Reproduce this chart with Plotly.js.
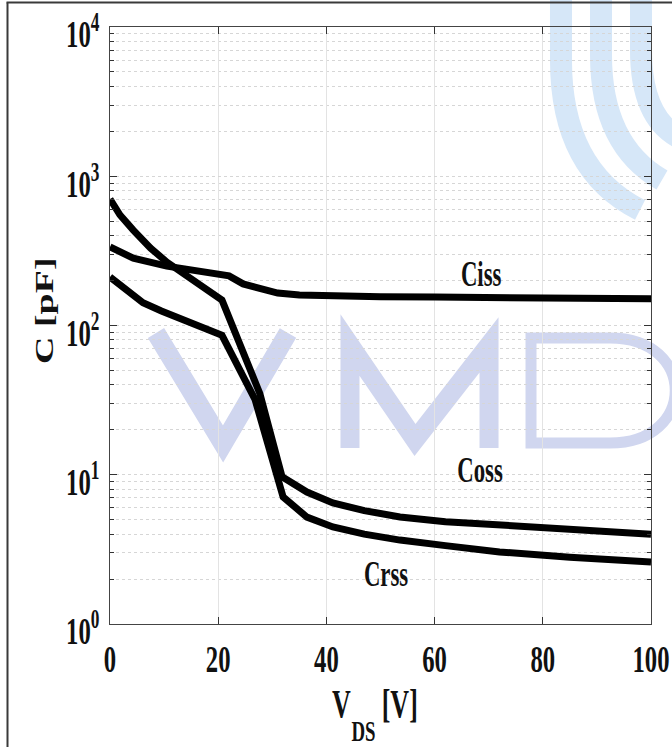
<!DOCTYPE html>
<html>
<head>
<meta charset="utf-8">
<script src="https://cdn.plot.ly/plotly-3.0.1.min.js"></script>
<style>
html,body{margin:0;padding:0;background:#fff;}
#chart{width:672px;height:747px;}
</style>
</head>
<body>
<div id="chart"></div>
<script>
// ---- data ----
var vdsCiss = [0, 4.3, 10.5, 15, 20.3, 22, 24.6, 28, 31, 35, 40, 50, 60, 70, 80, 90, 100];
var ciss    = [336, 283, 250, 237, 225, 215, 190, 175, 165, 160, 158, 156, 155, 154, 153, 152, 151];

var vdsCoss = [0, 1.85, 4.3, 7.5, 10.5, 16, 20.7, 27.7, 31.8, 36.4, 41.2, 47, 53.6, 62, 72, 85, 100];
var coss    = [704, 550, 436, 330, 266, 193, 148, 35, 9.7, 7.66, 6.47, 5.75, 5.21, 4.85, 4.6, 4.3, 4.0];

var vdsCrss = [0, 3, 6.1, 9.5, 13.5, 17, 20.7, 26.8, 32, 36.4, 41.2, 47, 53.6, 62, 72, 85, 100];
var crss    = [211, 175, 142, 125, 109, 97, 86, 32, 7.1, 5.2, 4.47, 4.0, 3.65, 3.35, 3.04, 2.8, 2.6];

var xTickVals = [0, 20, 40, 60, 80, 100];
var xTickText = ['0', '20', '40', '60', '80', '100'];
var yTickVals = [1, 10, 100, 1000, 10000];
var yTickText = ['10<sup>0</sup>', '10<sup>1</sup>', '10<sup>2</sup>', '10<sup>3</sup>', '10<sup>4</sup>'];
var seriesNames = ['Ciss', 'Coss', 'Crss'];
var yTitle = 'C [pF]';

// ---- geometry helpers (plot area in pixels: x 110..651, y 27..624) ----
var L = 110, R = 651, T = 27, B = 624;
function PX(px){ return (px - L) / (R - L); }
function PY(py){ return (B - py) / (B - T); }
function path(cmds){
  return cmds.map(function(c){
    var s = c[0];
    for (var i = 1; i < c.length; i += 2) s += ' ' + PX(c[i]).toFixed(4) + ',' + PY(c[i+1]).toFixed(4);
    return s;
  }).join(' ');
}

var minorVals = [];
for (var k = 0; k < 4; k++) for (var m = 2; m <= 9; m++) minorVals.push(m * Math.pow(10, k));

var FONT = 'Liberation Serif, Times New Roman, serif';
var INK = '#111';

var lineStyle = {color: '#000', width: 7};
var data = [
  {x: vdsCiss, y: ciss, name: seriesNames[0], mode: 'lines', line: lineStyle},
  {x: vdsCoss, y: coss, name: seriesNames[1], mode: 'lines', line: lineStyle},
  {x: vdsCrss, y: crss, name: seriesNames[2], mode: 'lines', line: lineStyle}
];

var wmLetter = '#d0d6ef', wmArc = '#d6e7f8';
var shapes = [
  // watermark letters V M D
  {type: 'path', xref: 'paper', yref: 'paper', layer: 'below', line: {color: wmLetter, width: 19},
   path: path([['M', 156, 333], ['L', 223, 444], ['L', 288, 333]])},
  {type: 'path', xref: 'paper', yref: 'paper', layer: 'below', line: {color: wmLetter, width: 19},
   path: path([['M', 350, 448], ['L', 350, 345], ['L', 415, 440], ['L', 489, 345], ['L', 489, 448]])},
  {type: 'path', xref: 'paper', yref: 'paper', layer: 'below', line: {color: wmLetter, width: 11},
   path: path([['M', 531, 338], ['L', 531, 443], ['L', 610, 443], ['C', 697, 443, 697, 338, 610, 338], ['Z']])},
  // watermark arcs top right
  {type: 'path', xref: 'paper', yref: 'paper', layer: 'below', line: {color: wmArc, width: 22},
   path: path([['M', 561, -5], ['L', 561, 60], ['Q', 561, 170, 640, 210]])},
  {type: 'path', xref: 'paper', yref: 'paper', layer: 'below', line: {color: wmArc, width: 22},
   path: path([['M', 601, -5], ['L', 601, 55], ['Q', 601, 145, 662, 180]])},
  {type: 'path', xref: 'paper', yref: 'paper', layer: 'below', line: {color: wmArc, width: 22},
   path: path([['M', 641, -5], ['L', 641, 50], ['Q', 641, 118, 680, 138]])},
  // outer frame (left and top edges)
  {type: 'line', xref: 'paper', yref: 'paper', layer: 'above', line: {color: '#3a3a3a', width: 2},
   x0: PX(7.5), x1: PX(7.5), y0: PY(760), y1: PY(2.5)},
  {type: 'line', xref: 'paper', yref: 'paper', layer: 'above', line: {color: '#3a3a3a', width: 2},
   x0: PX(6.5), x1: PX(690), y0: PY(2.5), y1: PY(2.5)}
];

function ann(text, px, py, size, angle){
  return {text: text, xref: 'paper', yref: 'paper', x: PX(px), y: PY(py),
          xanchor: 'center', yanchor: 'middle', showarrow: false, textangle: angle || 0,
          font: {family: FONT, size: size, color: INK, weight: 'bold'}};
}
var annotations = [
  ann(seriesNames[0], 481, 274, 35),
  ann(seriesNames[1], 480, 470, 35),
  ann(seriesNames[2], 386, 574, 35),
  ann('V', 341.5, 703, 40),
  ann('DS', 363.5, 731, 29),
  ann('[V]', 400, 703, 40),
  ann(yTitle, 45, 311, 38, -90)
];

var layout = {
  width: 672, height: 747,
  margin: {l: L, r: 672 - R, t: T, b: 747 - B, pad: 0},
  paper_bgcolor: '#fff', plot_bgcolor: '#fff',
  showlegend: false,
  font: {family: FONT, color: INK, weight: 'bold'},
  xaxis: {
    range: [0, 100], tickvals: xTickVals, ticktext: xTickText,
    ticks: 'inside', ticklen: 7, tickwidth: 1, tickcolor: '#333',
    showline: true, linecolor: '#444', linewidth: 1, mirror: 'ticks',
    showgrid: true, gridcolor: '#e3e3e3', gridwidth: 1, zeroline: false,
    tickfont: {family: FONT, size: 38, color: INK, weight: 'bold'},
    ticklabelstandoff: 1, ticklabeloverflow: 'allow'
  },
  yaxis: {
    type: 'log', range: [0, 4], tickvals: yTickVals, ticktext: yTickText,
    ticks: 'inside', ticklen: 7, tickwidth: 1, tickcolor: '#333',
    showline: true, linecolor: '#444', linewidth: 1, mirror: 'ticks',
    showgrid: true, gridcolor: '#d6d6d6', gridwidth: 1, griddash: 'dot', zeroline: false,
    tickfont: {family: FONT, size: 38, color: INK, weight: 'bold'},
    ticklabelstandoff: 2, ticklabelshift: 7, ticklabeloverflow: 'allow',
    minor: {tickvals: minorVals, ticks: 'inside', ticklen: 4, tickcolor: '#333',
            showgrid: true, gridcolor: '#d6d6d6', griddash: 'dot', gridwidth: 1}
  },
  shapes: shapes,
  annotations: annotations
};

// squeeze text horizontally on screen (the reference text is tall and narrow)
function squeeze(gd, s){
  var nodes = gd.querySelectorAll('text');
  nodes.forEach(function(t){
    if (!t.textContent || !t.textContent.trim()) return;
    var svg = t.ownerSVGElement;
    if (!svg) return;
    var bb;
    try { bb = t.getBBox(); } catch(e) { return; }
    if (!bb.width) return;
    var ctm = t.getCTM();
    var pctm = t.parentNode.getCTM();
    if (!ctm || !pctm) return;
    var anchor = t.getAttribute('text-anchor') || 'start';
    var lx = anchor === 'end' ? bb.x + bb.width : (anchor === 'middle' ? bb.x + bb.width / 2 : bb.x);
    var ly = bb.y + bb.height / 2;
    var pt = svg.createSVGPoint(); pt.x = lx; pt.y = ly;
    var sp = pt.matrixTransform(ctm);
    var S = svg.createSVGMatrix().translate(sp.x, 0).scaleNonUniform(s, 1).translate(-sp.x, 0);
    var M = pctm.inverse().multiply(S).multiply(ctm);
    t.setAttribute('transform', 'matrix(' + [M.a, M.b, M.c, M.d, M.e, M.f].join(',') + ')');
  });
}

var gd = document.getElementById('chart');
Plotly.newPlot(gd, data, layout, {staticPlot: true, displayModeBar: false}).then(function(){
  squeeze(gd, 0.65);
});
</script>
</body>
</html>
